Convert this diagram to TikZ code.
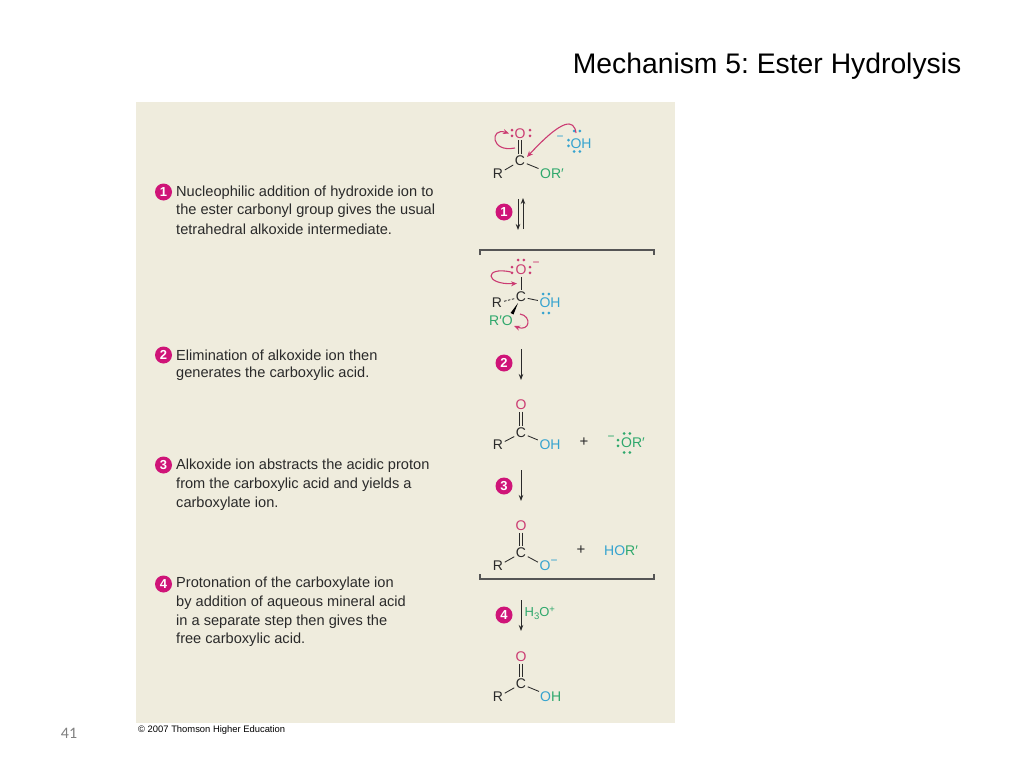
\documentclass[tikz,border=0pt]{standalone}
\usepackage{fontspec}
\setmainfont{Liberation Sans}
\newfontfamily\pagefont{Carlito}
\usetikzlibrary{arrows.meta}
\frenchspacing
\definecolor{panel}{HTML}{EFECDD}
\definecolor{mag}{HTML}{CF1478}
\definecolor{oxy}{HTML}{CB3B72}
\definecolor{blu}{HTML}{35A3CF}
\definecolor{grn}{HTML}{2FA86C}
\definecolor{ink}{HTML}{2A2A2A}
\newcommand{\fsz}[1]{\fontsize{#1}{#1}\selectfont}
\newcommand{\dotsAt}[3]{\fill[#1] (#2,#3) circle (1.5);}
\newcommand{\vpair}[3]{\dotsAt{#1}{#2}{#3-2.8}\dotsAt{#1}{#2}{#3+2.8}}
\newcommand{\hpair}[3]{\dotsAt{#1}{#2-2.8}{#3}\dotsAt{#1}{#2+2.8}{#3}}
\tikzset{
  x=1pt,y=-1pt,
  atom/.style={inner sep=1.5pt,font=\fsz{14},text=ink},
  body/.style={anchor=west,inner sep=0pt,font=\fsz{14.6},text=ink},
  badge/.style={circle,fill=mag,text=white,inner sep=0pt,minimum size=17pt,font=\bfseries\fsz{13}},
  bond/.style={draw=ink,line width=.85pt},
  dbond/.style={draw=ink,line width=.75pt,double=panel,double distance=2pt},
  react/.style={draw=ink,line width=.85pt,-{Stealth[length=6pt,width=4.5pt]}},
  curly/.style={draw=oxy,line width=1.1pt,-{Stealth[length=6pt,width=5pt]}},
  brack/.style={draw=ink!80,line width=1.1pt},
}
\begin{document}
\begin{tikzpicture}
\useasboundingbox (0,0) rectangle (1024,768);
\fill[white] (0,0) rectangle (1024,768);
\fill[panel] (136,102) rectangle (675,723);
\node[anchor=east,inner sep=0pt,font=\fsz{28.3},text=black] (title) at (961.5,66.5) {Mechanism 5: Ester Hydrolysis};
\node[inner sep=0pt,font=\pagefont\fsz{16},text=black!50] (pageno) at (69,733.5) {41};
\node[anchor=west,inner sep=0pt,font=\fsz{9.4},text=black] (copy) at (138,730.5) {© 2007 Thomson Higher Education};

% left column
\node[badge] (b1) at (163.5,192) {1};
\node[body] (t11) at (176,192.5) {Nucleophilic addition of hydroxide ion to};
\node[body] (t12) at (176,211) {the ester carbonyl group gives the usual};
\node[body] (t13) at (176,229.5) {tetrahedral alkoxide intermediate.};
\node[badge] (b2) at (163.5,355) {2};
\node[body] (t21) at (176,355) {Elimination of alkoxide ion then};
\node[body] (t22) at (176,374) {generates the carboxylic acid.};
\node[badge] (b3) at (163.5,465) {3};
\node[body] (t31) at (176,465.5) {Alkoxide ion abstracts the acidic proton};
\node[body] (t32) at (176,484.5) {from the carboxylic acid and yields a};
\node[body] (t33) at (176,503.5) {carboxylate ion.};
\node[badge] (b4) at (163.5,584) {4};
\node[body] (t41) at (176,584) {Protonation of the carboxylate ion};
\node[body] (t42) at (176,602.5) {by addition of aqueous mineral acid};
\node[body] (t43) at (176,621.5) {in a separate step then gives the};
\node[body] (t44) at (176,640) {free carboxylic acid.};

% molecule 1: ester
\node[atom,text=oxy] (o1) at (520,133.5) {O};
\node[atom] (c1) at (520,161) {C};
\node[atom] (r1) at (498,174) {R};
\node[atom,text=grn] (or1) at (552,174) {OR′};
\node[atom,text=blu] (oh1) at (581,143.5) {OH};
\node[atom,text=blu,font=\fsz{12}] (m1) at (560,138) {−};
\draw[dbond] (o1) -- (c1);
\draw[bond] (c1) -- (r1);
\draw[bond] (c1) -- (or1);
\vpair{oxy}{512}{133}\vpair{oxy}{530}{133}
\vpair{blu}{568.5}{143}
\hpair{blu}{577}{131}\hpair{blu}{577}{151.5}
\coordinate (c1a) at (515,148);
\coordinate (c1b) at (509,133.5);
\draw[curly] (c1a) .. controls (490,153) and (490,127) .. (c1b);
\coordinate (c1tip) at (527,157);
\coordinate (oh1s) at (576,133);
\draw[curly] (oh1s) .. controls (574,119) and (563,118) .. (c1tip);

% step 1 arrows
\node[badge] (a1) at (504,212) {1};
\coordinate (d1s) at (518,199); \coordinate (d1e) at (518,230);
\coordinate (u1s) at (523,229); \coordinate (u1e) at (523,198);
\draw[react] (d1s) -- (d1e);
\draw[react] (u1s) -- (u1e);

% top bracket
\coordinate (bt1) at (480,255); \coordinate (bt2) at (480,250);
\coordinate (bt3) at (654,250); \coordinate (bt4) at (654,255);
\draw[brack] (bt1) -- (bt2) -- (bt3) -- (bt4);

% molecule 2: tetrahedral intermediate
\node[atom,text=oxy] (o2) at (521,270) {O};
\node[atom] (c2) at (521,297) {C};
\node[atom] (r2) at (497,303) {R};
\node[atom,text=blu] (oh2) at (550,303) {OH};
\node[atom,text=grn] (or2) at (501,321) {R′O};
\node[atom,text=oxy,font=\fsz{12}] (m2) at (536,264) {−};
\draw[bond] (o2) -- (c2);
\draw[bond,dashed,dash pattern=on 2.5pt off 1.5pt] (c2) -- (r2);
\draw[bond] (c2) -- (oh2);
\coordinate (wa) at (518,303);
\coordinate (wb) at (510.5,313);
\coordinate (wc) at (513.5,314.5);
\fill[black] (wa) -- (wb) -- (wc) -- cycle;
\vpair{oxy}{512}{270}\vpair{oxy}{530}{270}
\hpair{oxy}{521}{260}
\hpair{blu}{546}{294}\hpair{blu}{546}{313}
\coordinate (c2a) at (511,272);
\coordinate (c2b) at (517,283.5);
\draw[curly] (c2a) .. controls (484,266) and (484,285) .. (c2b);
\coordinate (c2c) at (520,314);
\coordinate (c2d) at (514,326);
\draw[curly] (c2c) .. controls (532,316) and (530,332) .. (c2d);

% step 2 arrow
\node[badge] (a2) at (504,363) {2};
\coordinate (s2s) at (521,349); \coordinate (s2e) at (521,380);
\draw[react] (s2s) -- (s2e);

% molecule 3
\node[atom,text=oxy] (o3) at (521,405) {O};
\node[atom] (c3) at (521,433) {C};
\node[atom] (r3) at (498,445) {R};
\node[atom,text=blu] (oh3) at (550,445) {OH};
\draw[dbond] (o3) -- (c3);
\draw[bond] (c3) -- (r3);
\draw[bond] (c3) -- (oh3);
\node[atom,font=\fsz{15}] (p3) at (584,442) {+};
\node[atom,text=grn] (or3) at (633,443) {OR′};
\node[atom,text=grn,font=\fsz{12}] (m3) at (611,438.5) {−};
\vpair{grn}{618}{443}
\hpair{grn}{627}{433.5}\hpair{grn}{627}{452.5}

% step 3 arrow
\node[badge] (a3) at (504,486) {3};
\coordinate (s3s) at (521,470); \coordinate (s3e) at (521,501);
\draw[react] (s3s) -- (s3e);

% molecule 4
\node[atom,text=oxy] (o4) at (521,526) {O};
\node[atom] (c4) at (521,553) {C};
\node[atom] (r4) at (498,566) {R};
\node[atom,text=blu] (ox4) at (545,566) {O};
\node[atom,text=blu,font=\fsz{12}] (m4) at (554,562) {−};
\draw[dbond] (o4) -- (c4);
\draw[bond] (c4) -- (r4);
\draw[bond] (c4) -- (ox4);
\node[atom,font=\fsz{15}] (p4) at (581,550) {+};
\node[atom,anchor=west,inner sep=0pt] (hor) at (604,551) {\textcolor{blu}{HO}\textcolor{grn}{R′}};

% bottom bracket
\coordinate (bb1) at (480,574); \coordinate (bb2) at (480,579);
\coordinate (bb3) at (654,579); \coordinate (bb4) at (654,574);
\draw[brack] (bb1) -- (bb2) -- (bb3) -- (bb4);

% step 4 arrow
\node[badge] (a4) at (504,615) {4};
\coordinate (s4s) at (521,600); \coordinate (s4e) at (521,631);
\draw[react] (s4s) -- (s4e);
\node[atom,anchor=west,inner sep=0pt,text=grn,font=\fsz{13}] (h3o) at (524.5,613.5) {H\raisebox{-2.5pt}{\fsz{9.5}3}O\raisebox{4pt}{\fsz{9.5}+}};

% molecule 5
\node[atom,text=oxy] (o5) at (521,657) {O};
\node[atom] (c5) at (521,684) {C};
\node[atom] (r5) at (498,697) {R};
\node[atom,text=blu,anchor=west,inner sep=0pt] (oh5) at (540,697) {O\textcolor{grn}{H}};
\draw[dbond] (o5) -- (c5);
\draw[bond] (c5) -- (r5);
\draw[bond,shorten >=1pt] (c5) -- (oh5.north west);
\end{tikzpicture}
\end{document}
